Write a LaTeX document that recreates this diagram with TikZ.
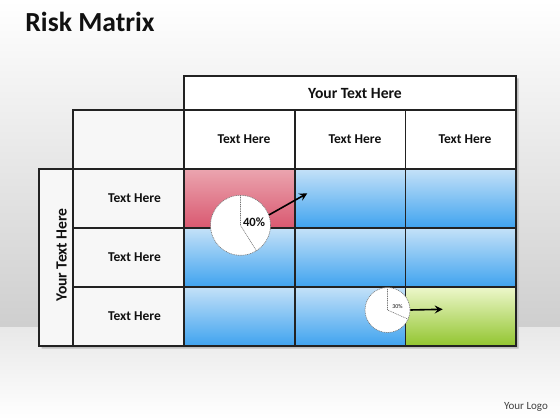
\documentclass[tikz,border=0pt]{standalone}
\usepackage{fontspec}
\setmainfont{Carlito}
\usetikzlibrary{arrows.meta}
\definecolor{redtop}{HTML}{EBA5AF}
\definecolor{redbot}{HTML}{D95870}
\definecolor{bluetop}{HTML}{C4E1F8}
\definecolor{bluebot}{HTML}{3FA3EF}
\definecolor{greentop}{HTML}{EDF7CB}
\definecolor{greenbot}{HTML}{92C52F}
\definecolor{gridline}{HTML}{222222}
\definecolor{labelfill}{HTML}{F7F7F7}
\definecolor{textcol}{HTML}{111111}
\begin{document}
\begin{tikzpicture}[x=1pt,y=-1pt,
  grid/.style={draw=gridline,line width=1.5pt},
  celltext/.style={text=textcol,font=\fontsize{13.5}{15}\selectfont\bfseries,inner sep=0pt},
  headtext/.style={text=textcol,font=\fontsize{15.6}{17}\selectfont\bfseries,inner sep=0pt},
  pie/.style={circle,draw=black!55,fill=white,dash pattern=on 1pt off 0.8pt,line width=0.6pt,inner sep=0pt},
  slice/.style={draw=black!55,dash pattern=on 1pt off 0.8pt,line width=0.6pt},
  arr/.style={line width=1.6pt,black,-{Stealth[length=8pt,width=8pt,inset=3pt]}}]
\useasboundingbox (0,0) rectangle (560,420);
% background
\shade[top color=white,bottom color=black!19] (0,0) rectangle (560,327);
\shade[top color=black!9,bottom color=white] (0,327) rectangle (560,420);
% shadow
\fill[black!25] (186.5,78.5) -- (518.5,78.5) -- (518.5,348.5) -- (41.5,348.5) -- (41.5,171.5) -- (75.5,171.5) -- (75.5,112.5) -- (186.5,112.5) -- cycle;
% fills
\fill[white] (184,76) rectangle (516,169);
\fill[labelfill] (73,110) rectangle (184,169);
\fill[labelfill] (39,169) rectangle (184,346);
% colored cells
\shade[top color=redtop,bottom color=redbot] (184,169) rectangle (295,228);
\foreach \xa/\xb in {295/405.5,405.5/516}{
  \shade[top color=bluetop,bottom color=bluebot] (\xa,169) rectangle (\xb,228);}
\foreach \xa/\xb in {184/295,295/405.5,405.5/516}{
  \shade[top color=bluetop,bottom color=bluebot] (\xa,228) rectangle (\xb,287);}
\foreach \xa/\xb in {184/295,295/405.5}{
  \shade[top color=bluetop,bottom color=bluebot] (\xa,287) rectangle (\xb,346);}
\shade[top color=greentop,bottom color=greenbot] (405.5,287) rectangle (516,346);
% grid
\draw[grid] (184,76) rectangle (516,110);
\draw[grid] (73,110) rectangle (516,169);
\draw[grid] (39,169) rectangle (516,346);
\foreach \x in {184,295,405.5}{\draw[grid] (\x,110) -- (\x,346);}
\draw[grid] (73,169) -- (73,346);
\foreach \y in {228,287}{\draw[grid] (73,\y) -- (516,\y);}
% texts
\node[text=textcol,font=\fontsize{27.6}{30}\selectfont\bfseries,inner sep=0pt] (title) at (90,21.5) {Risk Matrix};
\node[text=black!75,font=\fontsize{11}{13}\selectfont,inner sep=0pt] (logo) at (526,407) {Your Logo};
\node[headtext] (tophead) at (355,93) {Your Text Here};
\node[headtext,rotate=90] (sidehead) at (61.5,255) {Your Text Here};
\node[celltext] (c1) at (244,139.5) {Text Here};
\node[celltext] (c2) at (355,139.5) {Text Here};
\node[celltext] (c3) at (465,139.5) {Text Here};
\node[celltext] (r1) at (134.5,198.5) {Text Here};
\node[celltext] (r2) at (134.5,257.5) {Text Here};
\node[celltext] (r3) at (134.5,316.5) {Text Here};
% pies
\node[pie,minimum size=60pt] (pieA) at (240.5,225.3) {};
\draw[slice] (pieA.north) -- (pieA.center) -- (pieA.-58);
\node[text=textcol,font=\fontsize{12.6}{14}\selectfont\bfseries,inner sep=0pt] (pctA) at (254,222.5) {40\%};
\node[pie,minimum size=45pt] (pieB) at (387.5,310) {};
\draw[slice] (pieB.north) -- (pieB.center) -- (pieB.-24);
\node[text=textcol,font=\fontsize{5.9}{7}\selectfont,inner sep=0pt] (pctB) at (397.5,306.8) {30\%};
% arrows
\coordinate (endA) at (307.3,193.3);
\coordinate (endB) at (442.7,309.3);
\draw[arr] (pieA.20) -- (endA);
\draw[arr] (pieB.east) -- (endB);
\end{tikzpicture}
\end{document}
